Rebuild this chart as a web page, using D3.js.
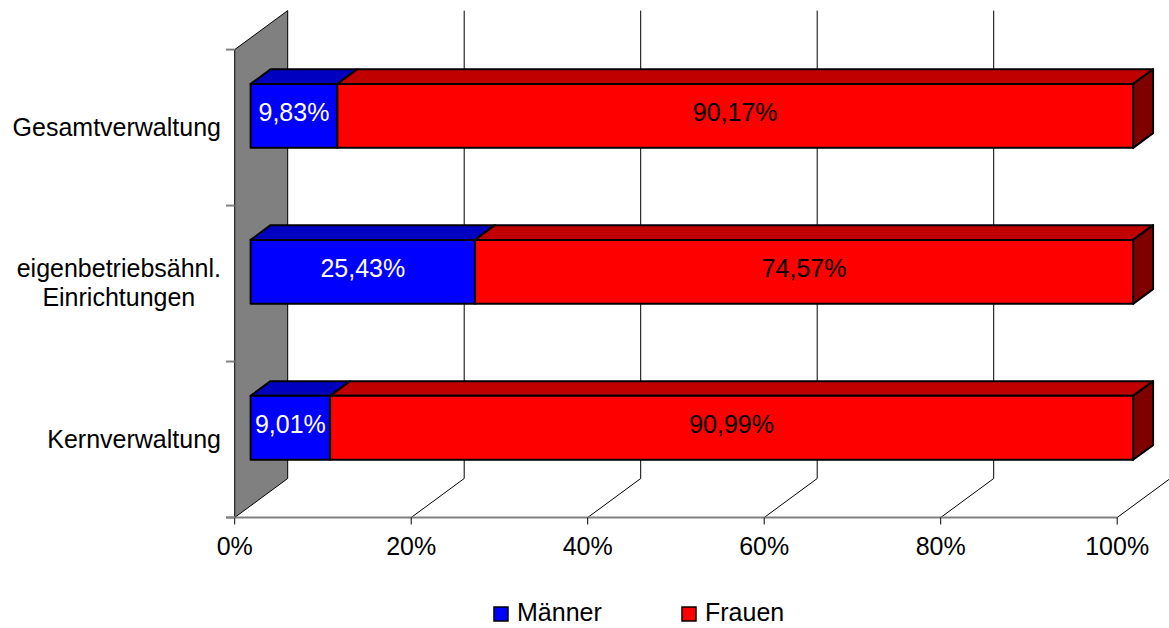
<!DOCTYPE html>
<html>
<head>
<meta charset="utf-8">
<script src="https://cdn.jsdelivr.net/npm/d3@7"></script>
<style>
  body { margin: 0; background: #fff; }
  svg text { font-family: "Liberation Sans", Arial, sans-serif; font-size: 25px; }
</style>
</head>
<body>
<div id="chart"></div>
<script>
// values
var categories = ["Gesamtverwaltung", "eigenbetriebsähnl.\nEinrichtungen", "Kernverwaltung"];
var seriesNames = ["Männer", "Frauen"];
var maenner = [9.83, 25.43, 9.01];
var frauen = [90.17, 74.57, 90.99];
var tickValues = [0, 20, 40, 60, 80, 100];

var width = 1169, height = 628;
var depth = {dx: 53, dy: -39};       // oblique offset of the back wall
var barDepth = {from: 0.30, to: 0.677}; // where the bars sit in the depth

var colors = {
    front: ["#0000ff", "#ff0000"],
    top:   ["#0000c0", "#c00000"],
    side:  ["#000080", "#800000"],
    label: ["#ffffff", "#000000"]
};

var svg = d3.select("#chart").append("svg")
    .attr("width", width)
    .attr("height", height);

var x = d3.scaleLinear().domain([0, 100]).range([234.7, 1117.2]);
var y = d3.scaleBand().domain(categories).range([49.6, 517.5])
    .paddingInner(0.59).paddingOuter(0.295);
var yBand = d3.scaleBand().domain(categories).range([49.6, 517.5]);

var floorY = 517.5, topY = 49.6;

// left wall
var wall = [[x(0), topY], [x(0) + depth.dx, topY + depth.dy],
            [x(0) + depth.dx, floorY + depth.dy], [x(0), floorY]];
svg.append("polygon")
    .attr("points", wall.map(p => p.join(",")).join(" "))
    .attr("fill", "#808080")
    .attr("stroke", "#000")
    .attr("stroke-width", 1);

// gridlines on the back wall and the floor
var grid = svg.append("g").attr("stroke", "#000").attr("stroke-width", 1).attr("fill", "none");
grid.selectAll("path").data(tickValues.slice(1)).enter().append("path")
    .attr("d", function(t) {
        var fx = x(t);
        return "M" + fx + "," + floorY +
            "L" + (fx + depth.dx) + "," + (floorY + depth.dy) +
            "L" + (fx + depth.dx) + "," + (topY + depth.dy);
    });

// x axis line + ticks
svg.append("line")
    .attr("x1", 226).attr("x2", x(100))
    .attr("y1", floorY).attr("y2", floorY)
    .attr("stroke", "#808080").attr("stroke-width", 2);
svg.selectAll(".xtick").data(tickValues).enter().append("line")
    .attr("class", "xtick")
    .attr("x1", d => x(d)).attr("x2", d => x(d))
    .attr("y1", floorY).attr("y2", floorY + 7)
    .attr("stroke", "#000").attr("stroke-width", 1);
svg.selectAll(".xlabel").data(tickValues).enter().append("text")
    .attr("class", "xlabel")
    .attr("x", d => x(d))
    .attr("y", 555)
    .attr("text-anchor", "middle")
    .text(d => d + "%");

// y axis ticks at the band edges
var yEdges = categories.map(c => yBand(c)).concat([floorY]);
svg.selectAll(".ytick").data(yEdges).enter().append("line")
    .attr("class", "ytick")
    .attr("x1", 226).attr("x2", x(0))
    .attr("y1", d => d).attr("y2", d => d)
    .attr("stroke", "#808080").attr("stroke-width", 2);

// category labels
categories.forEach(function(c) {
    var lines = c.split("\n");
    var cy = yBand(c) + yBand.bandwidth() / 2;
    var lineH = 28.5;
    var g = svg.append("g");
    var texts = g.selectAll("text").data(lines).enter().append("text")
        .attr("y", (d, i) => cy + 8 + (i - (lines.length - 1) / 2) * lineH)
        .text(d => d);
    var maxW = d3.max(texts.nodes(), n => n.getComputedTextLength());
    texts.attr("x", 221 - maxW / 2).attr("text-anchor", "middle");
});

// stacked 3d bars
var rows = categories.map((c, i) => ({cat: c, "Männer": maenner[i], "Frauen": frauen[i]}));
var stack = d3.stack().keys(seriesNames)(rows);
var fmt = d3.formatLocale({decimal: ",", thousands: ".", grouping: [3], currency: ["", "€"]}).format(".2f");

var ox0 = barDepth.from * depth.dx, oy0 = barDepth.from * depth.dy;
var ox1 = barDepth.to * depth.dx, oy1 = barDepth.to * depth.dy;
var bh = y.bandwidth();

var bars = svg.append("g").attr("stroke", "#000").attr("stroke-width", 2).attr("stroke-linejoin", "round");

stack.forEach(function(layer, si) {
    layer.forEach(function(d) {
        var cat = d.data.cat;
        var xa = x(d[0]) + ox0, xb = x(d[1]) + ox0;
        var yt = y(cat) + oy0, yb = yt + bh;
        var dx = ox1 - ox0, dy = oy1 - oy0;

        // top face
        bars.append("polygon")
            .attr("points", [[xa, yt], [xb, yt], [xb + dx, yt + dy], [xa + dx, yt + dy]].map(p => p.join(",")).join(" "))
            .attr("fill", colors.top[si]);
        // right side face only on the last segment
        if (si == stack.length - 1) {
            bars.append("polygon")
                .attr("points", [[xb, yt], [xb + dx, yt + dy], [xb + dx, yb + dy], [xb, yb]].map(p => p.join(",")).join(" "))
                .attr("fill", colors.side[si]);
        }
        // front face
        bars.append("rect")
            .attr("x", xa).attr("y", yt)
            .attr("width", xb - xa).attr("height", bh)
            .attr("fill", colors.front[si]);
    });
});

// value labels
stack.forEach(function(layer, si) {
    svg.append("g").selectAll("text").data(layer).enter().append("text")
        .attr("x", d => (x(d[0]) + x(d[1])) / 2 + ox0)
        .attr("y", d => y(d.data.cat) + oy0 + bh / 2 + 5.5)
        .attr("text-anchor", "middle")
        .attr("fill", colors.label[si])
        .text(d => fmt(d[1] - d[0]) + "%");
});

// legend
var legendItems = [{name: "Männer", x: 494, color: colors.front[0]},
                   {name: "Frauen", x: 682, color: colors.front[1]}];
var legend = svg.append("g");
legendItems.forEach(function(l) {
    legend.append("rect")
        .attr("x", l.x).attr("y", 607)
        .attr("width", 14).attr("height", 14)
        .attr("fill", l.color)
        .attr("stroke", "#000").attr("stroke-width", 1.5);
    legend.append("text")
        .attr("x", l.x + 23).attr("y", 621)
        .text(l.name);
});
</script>
</body>
</html>
